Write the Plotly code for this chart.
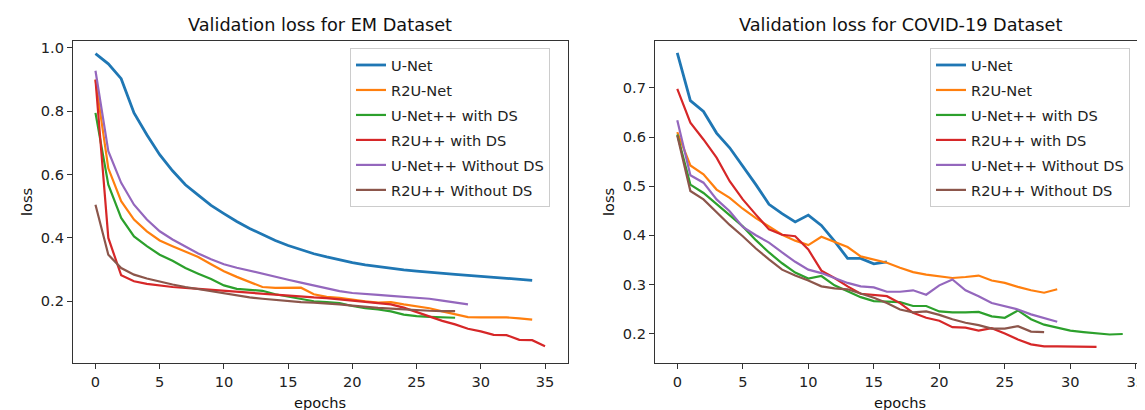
import plotly.graph_objects as go

# ---------------- data: EM dataset ----------------
em_unet = [0.982, 0.95, 0.903, 0.795, 0.726, 0.663, 0.612, 0.568, 0.535, 0.503, 0.477, 0.452, 0.43, 0.41,
           0.392, 0.376, 0.362, 0.35, 0.34, 0.33, 0.322, 0.315, 0.309, 0.303, 0.299, 0.295, 0.291, 0.288,
           0.285, 0.282, 0.279, 0.276, 0.273, 0.27, 0.266]
em_r2unet = [0.90, 0.62, 0.516, 0.458, 0.421, 0.392, 0.374, 0.358, 0.34, 0.317, 0.295, 0.277, 0.26, 0.245,
             0.242, 0.242, 0.243, 0.222, 0.214, 0.211, 0.205, 0.2, 0.196, 0.197, 0.19, 0.184, 0.178, 0.168,
             0.158, 0.15, 0.149, 0.15, 0.149, 0.146, 0.142]
em_unetpp_ds = [0.795, 0.568, 0.463, 0.405, 0.374, 0.347, 0.328, 0.305, 0.287, 0.27, 0.25, 0.239, 0.236,
                0.233, 0.222, 0.214, 0.206, 0.2, 0.197, 0.194, 0.185, 0.178, 0.174, 0.168, 0.158, 0.153,
                0.151, 0.149, 0.148]
em_r2upp_ds = [0.90, 0.40, 0.282, 0.263, 0.255, 0.249, 0.245, 0.242, 0.239, 0.236, 0.232, 0.228, 0.225,
               0.222, 0.22, 0.217, 0.214, 0.212, 0.21, 0.206, 0.202, 0.198, 0.194, 0.19, 0.18, 0.166, 0.152,
               0.138, 0.127, 0.113, 0.105, 0.094, 0.093, 0.078, 0.077, 0.058]
em_unetpp_nods = [0.928, 0.674, 0.574, 0.505, 0.458, 0.421, 0.395, 0.372, 0.351, 0.333, 0.317, 0.306, 0.296,
                  0.286, 0.277, 0.268, 0.259, 0.25, 0.241, 0.232, 0.226, 0.222, 0.22, 0.217, 0.214, 0.212,
                  0.208, 0.202, 0.195, 0.19]
em_r2upp_nods = [0.505, 0.347, 0.305, 0.284, 0.272, 0.262, 0.253, 0.245, 0.238, 0.231, 0.224, 0.218, 0.212,
                 0.208, 0.204, 0.2, 0.197, 0.196, 0.194, 0.19, 0.186, 0.182, 0.179, 0.177, 0.174, 0.171,
                 0.17, 0.169, 0.169]

# ---------------- data: COVID-19 dataset ----------------
cv_unet = [0.771, 0.674, 0.652, 0.608, 0.578, 0.541, 0.503, 0.463, 0.444, 0.427, 0.441, 0.42, 0.388, 0.353,
           0.353, 0.342, 0.346]
cv_r2unet = [0.61, 0.542, 0.524, 0.493, 0.476, 0.454, 0.435, 0.418, 0.401, 0.389, 0.38, 0.397, 0.387, 0.376,
             0.357, 0.35, 0.344, 0.334, 0.325, 0.32, 0.316, 0.313, 0.315, 0.318, 0.308, 0.303, 0.295, 0.288,
             0.283, 0.29]
cv_unetpp_ds = [0.605, 0.503, 0.486, 0.463, 0.44, 0.418, 0.39, 0.365, 0.343, 0.324, 0.312, 0.317, 0.298,
                0.286, 0.274, 0.266, 0.265, 0.264, 0.256, 0.256, 0.245, 0.243, 0.243, 0.244, 0.235, 0.232,
                0.247, 0.229, 0.218, 0.212, 0.206, 0.203, 0.2, 0.198, 0.199]
cv_r2upp_ds = [0.698, 0.629, 0.595, 0.558, 0.51, 0.473, 0.442, 0.412, 0.401, 0.398, 0.371, 0.328, 0.313,
               0.296, 0.281, 0.279, 0.276, 0.262, 0.242, 0.232, 0.226, 0.213, 0.212, 0.206, 0.211, 0.2,
               0.188, 0.178, 0.174, 0.174, 0.174, 0.173, 0.173]
cv_unetpp_nods = [0.634, 0.522, 0.507, 0.473, 0.449, 0.417, 0.4, 0.385, 0.365, 0.346, 0.33, 0.323, 0.313,
                  0.303, 0.296, 0.294, 0.285, 0.285, 0.288, 0.279, 0.298, 0.31, 0.288, 0.276, 0.262, 0.256,
                  0.249, 0.239, 0.231, 0.224]
cv_r2upp_nods = [0.603, 0.49, 0.473, 0.446, 0.421, 0.398, 0.373, 0.351, 0.33, 0.318, 0.308, 0.296, 0.292,
                 0.29, 0.281, 0.273, 0.262, 0.249, 0.243, 0.245, 0.238, 0.229, 0.222, 0.217, 0.21, 0.21,
                 0.215, 0.204, 0.203]

names = ["U-Net", "R2U-Net", "U-Net++ with DS", "R2U++ with DS", "U-Net++ Without DS", "R2U++ Without DS"]
colors = ["#1f77b4", "#ff7f0e", "#2ca02c", "#d62728", "#9467bd", "#8c564b"]
widths = [2.8, 2.2, 2.2, 2.2, 2.2, 2.2]

em_series = [em_unet, em_r2unet, em_unetpp_ds, em_r2upp_ds, em_unetpp_nods, em_r2upp_nods]
cv_series = [cv_unet, cv_r2unet, cv_unetpp_ds, cv_r2upp_ds, cv_unetpp_nods, cv_r2upp_nods]

W, H = 1145, 410
FONT = "DejaVu Sans"
TXT = 14.6

fig = go.Figure()
for i, ys in enumerate(em_series):
    fig.add_trace(go.Scatter(x=list(range(len(ys))), y=ys, mode="lines", name=names[i],
                             line=dict(color=colors[i], width=widths[i]),
                             xaxis="x", yaxis="y", legend="legend", legendgroup="a%d" % i))
for i, ys in enumerate(cv_series):
    fig.add_trace(go.Scatter(x=list(range(len(ys))), y=ys, mode="lines", name=names[i],
                             line=dict(color=colors[i], width=widths[i]),
                             xaxis="x2", yaxis="y2", legend="legend2", legendgroup="b%d" % i))

axis_common = dict(showgrid=False, zeroline=False, showline=True, mirror=True,
                   linecolor="#333333", linewidth=1.2, ticks="outside", ticklen=5,
                   tickwidth=1.2, tickcolor="#333333", automargin=False,
                   tickfont=dict(family=FONT, size=TXT, color="#222222"))

ydom = [(H - 355) / H, (H - 32.7) / H]

legend_common = dict(yanchor="top", xanchor="left",
                     bgcolor="rgba(255,255,255,0.85)", bordercolor="#cccccc", borderwidth=1,
                     font=dict(family=FONT, size=TXT, color="#222222"),
                     tracegroupgap=3, traceorder="grouped")

fig.update_layout(
    width=W, height=H,
    margin=dict(l=0, r=0, t=0, b=0),
    paper_bgcolor="white", plot_bgcolor="white",
    font=dict(family=FONT, size=TXT, color="#222222"),
    xaxis=dict(domain=[65 / W, 559.5 / W], range=[-1.75, 36.75], tick0=0, dtick=5, anchor="y", **axis_common),
    yaxis=dict(domain=ydom, range=[0.005, 1.023], tick0=0, dtick=0.2, tickformat=".1f", anchor="x", **axis_common),
    xaxis2=dict(domain=[647 / W, 1137 / W], range=[-1.7, 35.7], tick0=0, dtick=5, anchor="y2", **axis_common),
    yaxis2=dict(domain=ydom, range=[0.140, 0.796], tick0=0, dtick=0.1, tickformat=".1f", anchor="x2", **axis_common),
    legend=dict(x=342 / W, y=1 - 40 / H, **legend_common),
    legend2=dict(x=922 / W, y=1 - 40 / H, **legend_common),
    showlegend=True,
)

annots = [
    dict(text="Validation loss for EM Dataset", x=312 / W, y=1 - 17 / H, size=17.7),
    dict(text="Validation loss for COVID-19 Dataset", x=892 / W, y=1 - 17 / H, size=17.7),
    dict(text="epochs", x=312 / W, y=1 - 394 / H, size=TXT),
    dict(text="epochs", x=892 / W, y=1 - 394 / H, size=TXT),
    dict(text="loss", x=18 / W, y=1 - 194 / H, size=TXT, angle=-90),
    dict(text="loss", x=600 / W, y=1 - 194 / H, size=TXT, angle=-90),
]
for a in annots:
    fig.add_annotation(text=a["text"], x=a["x"], y=a["y"], xref="paper", yref="paper",
                       xanchor="center", yanchor="middle", showarrow=False,
                       textangle=a.get("angle", 0),
                       font=dict(family=FONT, size=a["size"], color="#111111"))

fig.write_html("out.html")
